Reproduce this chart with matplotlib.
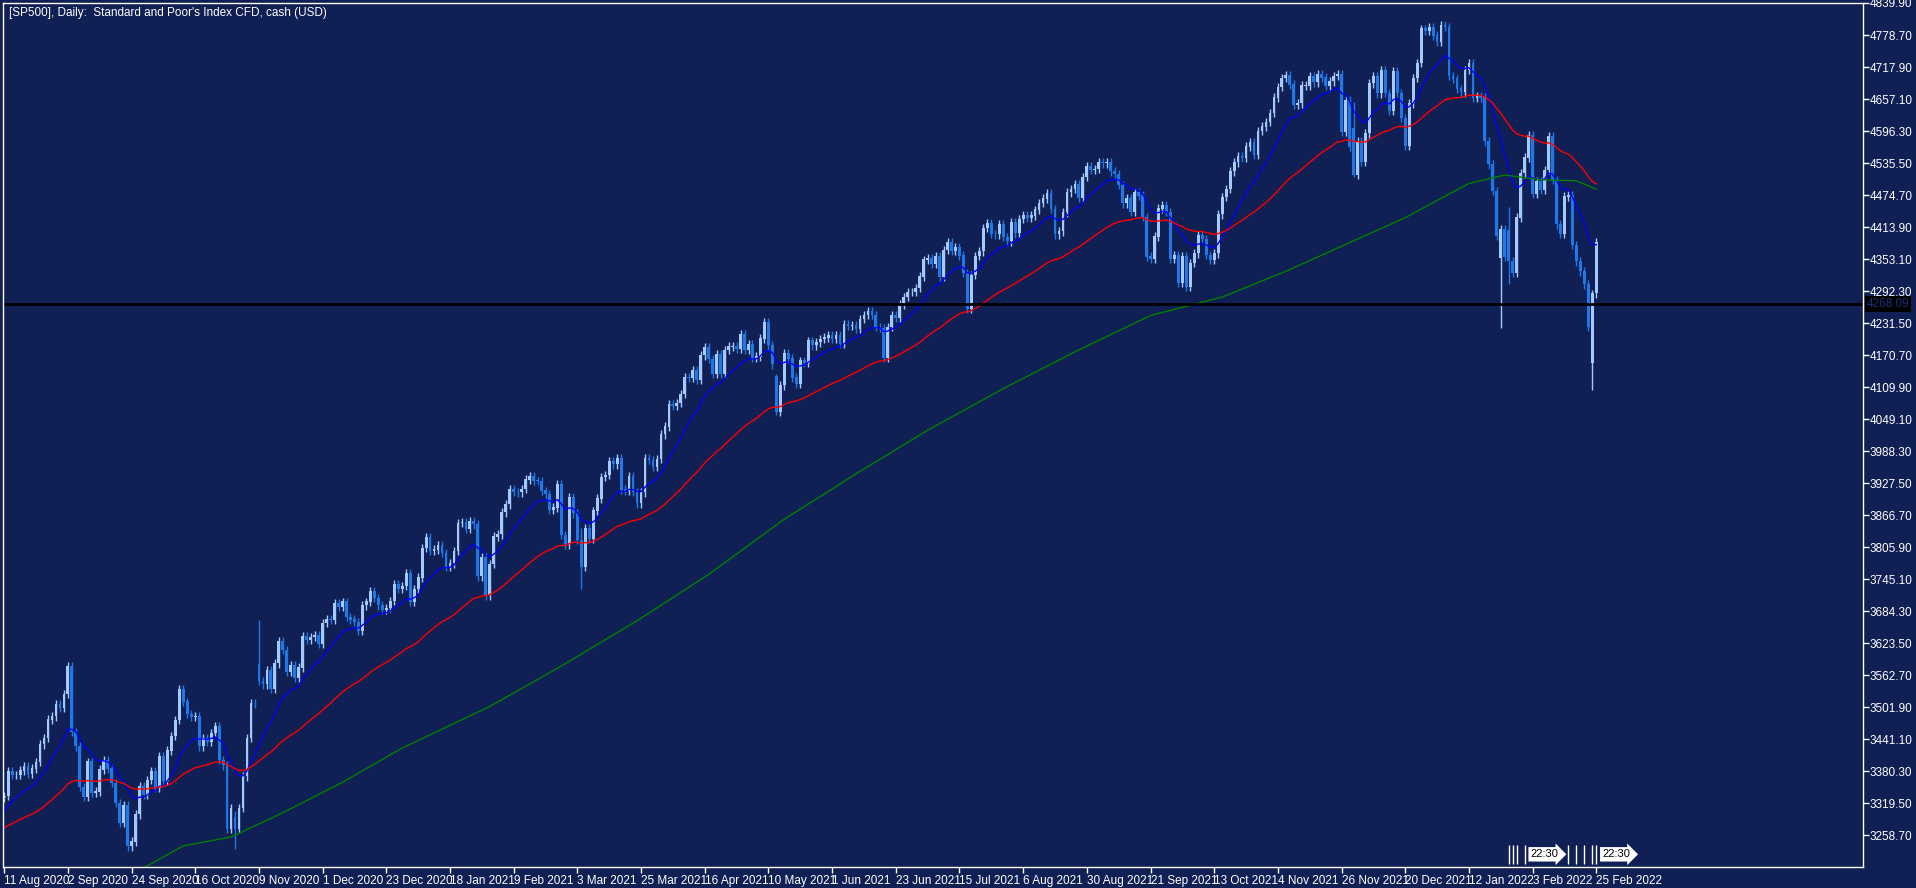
import numpy as np
import pandas as pd
import matplotlib
matplotlib.use('Agg')
import matplotlib.pyplot as plt

plt.rcParams['font.family'] = ['Liberation Sans', 'DejaVu Sans']

# trading days of the CFD (US holidays traded, except 25 Dec 2020, 1 Jan 2021, 24 Dec 2021)
dates = pd.bdate_range('2020-08-11', '2022-02-25')
dates = dates[~dates.isin(pd.to_datetime(['2020-12-25', '2021-01-01', '2021-12-24']))]

closes = [
    # Aug 2020
    3333, 3380, 3373, 3373, 3381, 3390, 3375, 3385, 3397, 3431, 3443, 3478, 3484, 3508, 3500,
    # Sep 2020
    3527, 3580, 3455, 3427, 3350, 3331, 3398, 3339, 3341, 3383, 3401, 3385, 3357, 3319, 3281,
    3315, 3237, 3246, 3298, 3351, 3335, 3363,
    # Oct 2020
    3380, 3348, 3409, 3361, 3419, 3447, 3477, 3535, 3512, 3489, 3483, 3484, 3427, 3443, 3436,
    3453, 3465, 3401, 3391, 3271, 3310, 3270,
    # Nov 2020
    3310, 3370, 3443, 3510, 3509, 3551, 3545, 3572, 3537, 3585, 3627, 3610, 3568, 3582, 3558,
    3577, 3636, 3630, 3635, 3638, 3622,
    # Dec 2020
    3662, 3669, 3667, 3699, 3692, 3702, 3673, 3668, 3663, 3647, 3695, 3702, 3722, 3709, 3695,
    3687, 3690, 3703, 3735, 3727, 3732, 3756,
    # Jan 2021
    3701, 3726, 3748, 3804, 3825, 3799, 3801, 3810, 3795, 3768, 3775, 3798, 3852, 3853, 3841,
    3855, 3849, 3750, 3787, 3714,
    # Feb 2021
    3774, 3826, 3830, 3872, 3887, 3915, 3911, 3910, 3916, 3934, 3940, 3932, 3931, 3913, 3906,
    3876, 3881, 3925, 3829, 3811,
    # Mar 2021
    3901, 3870, 3820, 3768, 3842, 3821, 3875, 3898, 3939, 3943, 3969, 3963, 3974, 3915, 3913,
    3940, 3911, 3889, 3910, 3975, 3971, 3959, 3973,
    # Apr 2021
    4020, 4035, 4077, 4074, 4080, 4097, 4129, 4128, 4142, 4124, 4170, 4185, 4163, 4135, 4173,
    4135, 4180, 4187, 4187, 4183, 4211, 4181,
    # May 2021
    4192, 4165, 4168, 4202, 4233, 4189, 4153, 4063, 4113, 4174, 4164, 4128, 4116, 4160, 4156,
    4198, 4189, 4195, 4201, 4204, 4208,
    # Jun 2021
    4202, 4208, 4192, 4230, 4227, 4227, 4220, 4239, 4247, 4255, 4247, 4224, 4222, 4166, 4224,
    4246, 4242, 4267, 4281, 4291, 4291, 4298,
    # Jul 2021
    4320, 4352, 4355, 4344, 4358, 4320, 4370, 4385, 4369, 4375, 4360, 4327, 4259, 4323, 4359,
    4368, 4412, 4422, 4401, 4400, 4419, 4395,
    # Aug 2021
    4387, 4423, 4402, 4429, 4437, 4432, 4436, 4447, 4460, 4468, 4479, 4448, 4400, 4406, 4442,
    4480, 4486, 4496, 4470, 4509, 4529, 4523,
    # Sep 2021
    4524, 4537, 4535, 4538, 4520, 4514, 4494, 4459, 4469, 4443, 4481, 4474, 4433, 4358, 4354,
    4396, 4449, 4455, 4443, 4353, 4360, 4308,
    # Oct 2021
    4358, 4300, 4346, 4364, 4399, 4391, 4361, 4351, 4364, 4438, 4471, 4486, 4520, 4537, 4549,
    4545, 4567, 4575, 4551, 4597, 4605,
    # Nov 2021
    4614, 4631, 4660, 4680, 4697, 4702, 4685, 4647, 4649, 4683, 4683, 4701, 4689, 4705, 4698,
    4683, 4691, 4701, 4705, 4595, 4655, 4567,
    # Dec 2021
    4513, 4577, 4538, 4592, 4687, 4701, 4668, 4712, 4669, 4635, 4710, 4669, 4621, 4568, 4649,
    4697, 4726, 4791, 4787, 4793, 4778, 4766,
    # Jan 2022
    4797, 4794, 4701, 4696, 4677, 4670, 4713, 4726, 4660, 4663, 4660, 4577, 4533, 4483, 4398,
    4410, 4357, 4350, 4327, 4432, 4516,
    # Feb 2022
    4546, 4589, 4477, 4501, 4484, 4522, 4587, 4504, 4419, 4401, 4472, 4475, 4380, 4349, 4330,
    4305, 4225, 4288, 4385,
]

# days with notable gaps / long wicks: open, high, low
special = {
    '2020-10-30': (3293, 3305, 3233),
    '2020-11-09': (3583, 3668, 3543),
    '2021-03-04': (3818, 3843, 3726),
    '2021-05-12': (4130, 4134, 4056),
    '2021-12-01': (4602, 4652, 4510),
    '2022-01-24': (4356, 4418, 4222),
    '2022-01-26': (4408, 4453, 4305),
    '2022-02-24': (4155, 4295, 4104),
}
wick = 8

# 200-period SMA
green_dates = ['2020-09-28', '2020-10-13', '2020-10-29', '2020-11-17', '2020-12-08', '2020-12-30',
               '2021-02-01', '2021-02-25', '2021-03-24', '2021-04-19', '2021-05-14', '2021-06-09',
               '2021-07-05', '2021-07-30', '2021-08-25', '2021-09-21', '2021-10-15', '2021-11-08',
               '2021-11-29', '2021-12-20', '2022-01-12', '2022-01-25', '2022-02-07', '2022-02-18',
               '2022-02-25']
green_vals = [3192, 3238, 3255, 3301, 3359, 3424, 3503, 3580, 3666, 3754, 3859, 3945,
              4028, 4107, 4177, 4246, 4281, 4330, 4381, 4432, 4497, 4513, 4504, 4502, 4486]

yticks = [4839.90, 4778.70, 4717.90, 4657.10, 4596.30, 4535.50, 4474.70, 4413.90, 4353.10,
          4292.30, 4231.50, 4170.70, 4109.90, 4049.10, 3988.30, 3927.50, 3866.70, 3805.90,
          3745.10, 3684.30, 3623.50, 3562.70, 3501.90, 3441.10, 3380.30, 3319.50, 3258.70]
hline = 4268.09

BG = '#101f54'
UP = '#a3c9ff'
DN = '#1f78e8'

n = len(closes)
x = np.arange(n)
c = np.array(closes, dtype=float)
o = np.r_[3330.0, c[:-1]]
h = np.maximum(o, c) + wick
l = np.minimum(o, c) - wick
dstr = [d.strftime('%Y-%m-%d') for d in dates]
idx = {d: i for i, d in enumerate(dstr)}
for d, (so, sh, sl) in special.items():
    i = idx[d]
    o[i], h[i], l[i] = so, sh, sl

fig = plt.figure(figsize=(19.16, 8.88), dpi=100, facecolor=BG)
ax = fig.add_axes([3 / 1916, 21 / 888, 1860 / 1916, 864 / 888], facecolor=BG)

up = c >= o
cols = np.where(up, UP, DN)
ax.vlines(x, l, h, colors=cols, linewidth=1)
ax.bar(x, np.abs(c - o) + 0.5, bottom=np.minimum(o, c), width=0.7, color=cols, linewidth=0)

blue = pd.Series([3300.0] + closes).ewm(span=14, adjust=False).mean().values[1:]
red = pd.Series([3270.0] + closes).ewm(span=50, adjust=False).mean().values[1:]
ax.plot(x, blue, color='#0000ff', lw=1)
ax.plot(x, red, color='#ff0000', lw=1)
ax.plot([idx[d] for d in green_dates], green_vals, color='#008000', lw=1)

ax.axhline(hline, color='black', lw=2)
ax.text(1.002, hline, '%.2f' % hline, transform=ax.get_yaxis_transform(), color='#1c2f78',
        fontsize=8.5, va='center', ha='left',
        bbox=dict(facecolor='black', edgecolor='none', pad=1.5), clip_on=False)

# session flags near the end
for i, lab in [(383, '22:30'), (401, '22:30')]:
    ax.text(i + 0.5, 3222, lab, color='black', fontsize=8, va='center', ha='left',
            bbox=dict(facecolor='white', edgecolor='none', pad=1.2, boxstyle='rarrow,pad=0.2'))
for i in [378, 379, 380, 382, 393, 395, 397, 399, 400]:
    ax.vlines(i, 3203, 3240, colors='white', lw=1)

ax.set_xlim(-0.3, 467)
ax.set_ylim(3197.9, 4839.9)

ax.yaxis.tick_right()
ax.set_yticks(yticks)
ax.set_yticklabels(['%.2f' % v for v in yticks])
xt = list(range(0, n, 16))
ax.set_xticks(xt)
ax.set_xticklabels([dates[i].strftime('%-d %b %Y') for i in xt], ha='left')
ax.tick_params(axis='both', colors='white', labelsize=8.5, length=4, width=1)
ax.tick_params(axis='x', pad=2)
ax.tick_params(axis='y', pad=1)
for s in ax.spines.values():
    s.set_color('white')
    s.set_linewidth(1)

ax.text(0.003, 0.995, "[SP500], Daily:  Standard and Poor's Index CFD, cash (USD)",
        transform=ax.transAxes, color='white', fontsize=8.5, va='top', ha='left')

fig.savefig('out.png', dpi=100, facecolor=BG)
